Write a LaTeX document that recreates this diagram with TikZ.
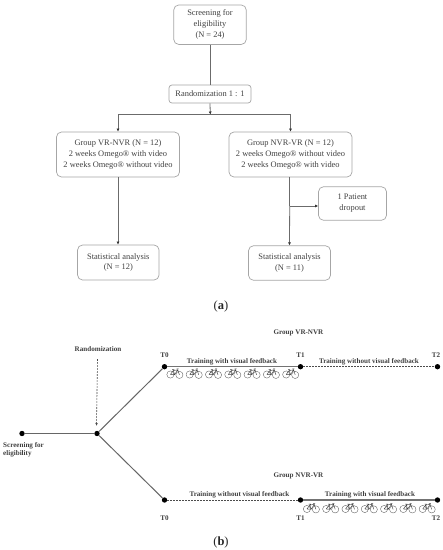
\documentclass[tikz,border=0pt]{standalone}
\usepackage{fontspec}
\setmainfont{Liberation Serif}
\usetikzlibrary{arrows.meta}
\definecolor{ln}{gray}{0.42}
\definecolor{bx}{gray}{0.65}
\definecolor{tx}{gray}{0.25}
\tikzset{
  x=1pt,y=-1pt,
  flowbox/.style={draw=bx,line width=0.7pt,rounded corners=5pt,align=center,text=tx,font=\fontsize{8.4}{10.9}\selectfont,inner sep=0pt,anchor=center},
  flow/.style={draw=ln,line width=0.8pt},
  flowarr/.style={flow,-{Latex[length=3pt,width=3pt,color=black!80]}},
  dotn/.style={circle,fill=black,draw=none,minimum size=5.4pt,inner sep=0pt},
  small/.style={text=tx,font=\bfseries\fontsize{7.1}{8}\selectfont,inner sep=0pt},
  solidl/.style={draw=black!60,line width=1pt},
  thick solidl/.style={draw=black!55,line width=1.4pt},
  dashl/.style={draw=black!70,line width=0.6pt,dash pattern=on 1.8pt off 1.2pt},
  cap lab/.style={text=black!85,font=\fontsize{12.5}{14}\selectfont,inner sep=0pt},
  bike/.pic={
    \draw[black!65,line width=0.35pt] (-4.6,2) circle (3.6pt) (4.4,2.4) circle (3.6pt);
    \draw[black!75,line width=0.45pt] (-4.6,2) -- (-1.6,-2) -- (2.8,-2.6) -- (4.4,2.4) (-1.6,-2) -- (-0.4,2.2) -- (2.8,-2.6) (-4.6,2) -- (-0.4,2.2) (-2.8,-2.8) -- (-0.6,-2.8) (1.6,-3.6) -- (3.6,-3.6);
  }
}
\begin{document}
\begin{tikzpicture}
\useasboundingbox (0,0) rectangle (443,550);
\fill[white] (0,0) rectangle (443,550);
% panel a
\node[flowbox,minimum width=72.5pt,minimum height=39.5pt] (scr) at (210,24.7) {Screening for\\eligibility\\(N = 24)};
\node[flowbox,minimum width=82pt,minimum height=18pt,rounded corners=3pt] (rnd) at (210,94) {Randomization 1 : 1};
\node[flowbox,minimum width=123pt,minimum height=45pt] (ga) at (118,154.5) {Group VR-NVR (N = 12)\\2 weeks Omego® with video\\2 weeks Omego® without video};
\node[flowbox,minimum width=123pt,minimum height=45pt] (gb) at (290.5,154.5) {Group NVR-VR (N = 12)\\2 weeks Omego® without video\\2 weeks Omego® with video};
\node[flowbox,minimum width=68pt,minimum height=33.5pt] (drop) at (352.5,203.5) {1 Patient\\dropout};
\node[flowbox,minimum width=81.5pt,minimum height=35pt] (sa) at (118.3,262.5) {Statistical analysis\\(N = 12)};
\node[flowbox,minimum width=82pt,minimum height=34.5pt] (sb) at (289.5,263) {Statistical analysis\\(N = 11)};
\coordinate (split) at (210.3,114.5);
\coordinate (branch) at (289.7,206);
\draw[flow] (scr.south -| rnd.north) -- (rnd.north);
\draw[flowarr] (rnd.south) -- (split);
\draw[flowarr] (split) -| (ga.north);
\draw[flowarr] (split) -| (gb.north);
\draw[flowarr] (ga.south) -- (sa.north -| ga.south);
\draw[flow] (gb.south -| branch) -- (branch);
\draw[flowarr] (branch) -- (drop.west |- branch);
\draw[flowarr] (branch) -- (sb.north);
\node[cap lab] (capa) at (221,306) {(\textbf{a})};
% panel b
\node[dotn] (s) at (22,433.5) {};
\node[dotn] (r) at (97,433.5) {};
\node[dotn] (a0) at (164.5,366.7) {};
\node[dotn] (a1) at (300.5,366.7) {};
\node[dotn] (a2) at (437.5,366.7) {};
\node[dotn] (b0) at (164.5,500) {};
\node[dotn] (b1) at (300.5,500) {};
\node[dotn] (b2) at (437.5,500) {};
\draw[solidl] (s) -- (r);
\draw[solidl] (r) -- (a0);
\draw[solidl] (r) -- (b0);
\draw[thick solidl] (a0) -- (a1);
\draw[dashl] (a1) -- (a2);
\draw[dashl] (b0) -- (b1);
\draw[thick solidl] (b1) -- (b2);
\node[small] (rl) at (98,349.5) {Randomization};
\coordinate (rt) at (97.5,359);
\draw[dashl,-{Latex[length=3pt,width=2.6pt]}] (rt) -- (96.5,426);
\node[small,align=left,anchor=north west] (sl) at (3,442) {Screening for\\eligibility};
\node[small] at (298.5,333) {Group VR-NVR};
\node[small] at (298.5,475.7) {Group NVR-VR};
\node[small] at (164.5,355) {T0};
\node[small] at (300.5,355) {T1};
\node[small] at (436,355) {T2};
\node[small] at (164.5,518) {T0};
\node[small] at (300.5,518) {T1};
\node[small] at (436,518) {T2};
\node[small] at (232,361.5) {Training with visual feedback};
\node[small] at (369,361.5) {Training without visual feedback};
\node[small] at (239.5,495) {Training without visual feedback};
\node[small] at (370,495) {Training with visual feedback};
\foreach \i in {0,...,6} {
  \pic at ({175+19.3*\i},372.5) {bike};
  \pic at ({311.5+19.3*\i},507) {bike};
}
\node[cap lab] (capb) at (221,542) {(\textbf{b})};
\end{tikzpicture}
\end{document}
